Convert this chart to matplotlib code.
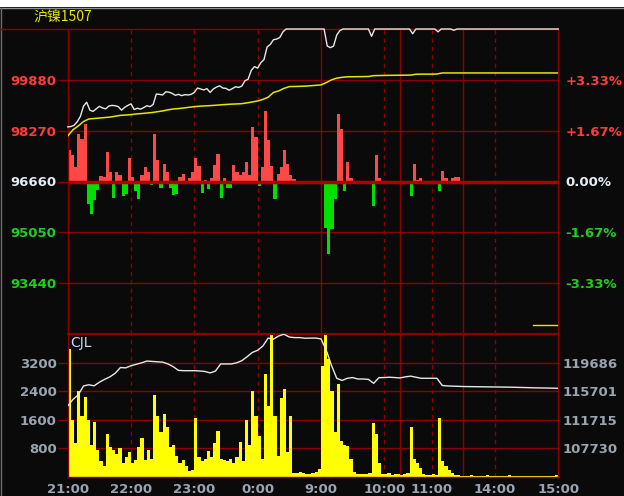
import matplotlib
matplotlib.use("Agg")
import matplotlib.pyplot as plt
import numpy as np
from matplotlib.lines import Line2D
from matplotlib.patches import Rectangle

plt.rcParams['font.family'] = ['DejaVu Sans']

# ---------------- data ----------------
title = "沪镍1507"
prev_settle = 96660
price_step = 1610
sessions = [("21:00", "01:00"), ("09:00", "10:15"), ("10:30", "11:30"), ("13:30", "15:00")]
time_labels = ["21:00", "22:00", "23:00", "0:00", "9:00", "10:00", "11:00", "14:00", "15:00"]
oi_tick_labels = [107730, 111715, 115701, 119686]
vol_ticks = [800, 1600, 2400, 3200]

# last price, one value every 3 trading minutes
price_3min = [
    98390, 98400, 98440, 98550, 98720, 99050, 99170, 98920, 98880, 98960,
    99040, 98990, 98960, 99050, 99070, 99060, 99030, 98920, 99010, 99070,
    99120, 98940, 98980, 98950, 99000, 99060, 99030, 99100, 99430, 99420,
    99400, 99500, 99490, 99450, 99390, 99420,
    99380, 99410, 99400, 99420, 99480, 99620, 99590, 99560, 99600, 99480,
    99590, 99650, 99690, 99620, 99610, 99550, 99600, 99660, 99640, 99680,
    99849, 99900, 100180, 100300, 100250, 100420, 100520, 100920, 101000, 101150,
    101170, 101220, 101400,
    101490, 101490, 101490, 101490, 101490, 101490, 101490, 101490, 101490, 101490,
    101490, 101490, 101490, 100950, 100900, 100950, 101300, 101440, 101490, 101490,
    101490, 101490, 101490, 101490, 101490, 101490, 101490, 101260, 101490, 101490,
    101490, 101490, 101490, 101490, 101490, 101490, 101490, 101490, 101490, 101490,
    101340, 101490, 101490, 101490, 101490, 101490, 101490, 101490, 101400, 101490,
    101490, 101490, 101490, 101450, 101490, 101490, 101490, 101490, 101490, 101490,
    101490, 101490, 101490, 101490, 101490, 101490, 101490, 101490, 101490, 101490,
    101490, 101490, 101490, 101490, 101490, 101490, 101490, 101490, 101490, 101490,
    101490, 101490, 101490, 101490, 101490, 101490, 101490,
]

# average price, one value every 5 trading minutes
avg_5min = [
    98100, 98300, 98420, 98560, 98640, 98655, 98670, 98685, 98700, 98728,
    98755, 98765, 98778, 98800, 98812, 98828, 98845, 98870, 98895, 98930,
    98955, 98970, 98990, 99010, 99030, 99045, 99055, 99063, 99075, 99088,
    99100, 99110, 99116, 99125, 99150, 99180, 99210, 99260, 99330, 99480,
    99530, 99610, 99665, 99670, 99675, 99680, 99692, 99705, 99720, 99790,
    99880, 99933, 99960, 99976, 99978, 99980, 99982, 99985, 100012, 100016,
    100020, 100022, 100024, 100026, 100028, 100030, 100057, 100060, 100060, 100060,
    100065, 100098, 100098, 100098, 100098, 100098, 100098, 100098, 100098, 100098,
    100098, 100098, 100098, 100098, 100098, 100098, 100098, 100098, 100098, 100098,
    100098, 100098, 100098, 100098,
]

# open interest, one value every 5 trading minutes
oi_5min = [
    113640, 114550, 115200, 116430, 116600, 116450, 116950, 117350, 117700, 118200,
    119000, 118950, 119250, 119450, 119650, 119900, 119850, 119800, 119750, 119500,
    119120, 118600, 118560, 118560, 118560, 118520, 118450, 118250, 118500, 119500,
    119500, 119500, 119650, 119950, 120500, 121100, 121400, 122000, 123100, 122950,
    123400, 123640, 123250, 123170, 123170, 123080, 123100, 123100, 123000, 121450,
    119300, 117500, 117200, 117500, 117600, 117400, 117400, 117350, 116800, 117590,
    117600, 117650, 117600, 117550, 117700, 117800, 117650, 117500, 117500, 117500,
    117500, 116500, 116430, 116400, 116380, 116350, 116340, 116330, 116320, 116310,
    116300, 116290, 116280, 116270, 116260, 116240, 116220, 116200, 116180, 116160,
    116150, 116140, 116120, 116110,
]

# volume (CJL), one bar per 3 trading minutes
volume_3min = [
    3590, 1600, 950, 2400, 1700, 2250, 1600, 900, 1550, 750,
    450, 320, 1200, 850, 750, 650, 800, 400, 550, 700,
    400, 480, 850, 1080, 480, 750, 500, 2300, 1700, 1250,
    1750, 1400, 850, 900, 580, 400, 480, 300, 180, 200,
    1650, 550, 450, 500, 720, 550, 950, 1280, 500, 480,
    450, 500, 400, 550, 970, 450, 1590, 900, 2400, 1700,
    1140, 500, 2890, 1980, 3985, 1700, 600, 2200, 2450, 700,
    1700, 110, 100, 130, 120, 90, 80, 100, 130, 220,
    3100, 3985, 3300, 2400, 1250, 2600, 1000, 900, 860, 500,
    150, 90, 80, 70, 90, 120, 1500, 1200, 400, 90,
    70, 100, 60, 80, 90,
    60, 80, 100, 1400, 500, 400, 250, 90, 60, 50,
    70, 60, 1650, 450, 300, 200, 120, 60, 50, 40,
    40, 30, 50, 40, 30, 40, 30, 50, 30, 40,
    30, 30, 40, 30, 50, 30, 40, 30, 30, 40,
    30, 30, 40, 30, 30, 40, 30, 30, 40, 50,
]

# red/green force bars around the settle line (price units), per 3 minutes
force_3min = [
    990, 830, 470, 1510, 1355, 1820, -700, -1040, -600, -260,
    170, 156, 940, 310, -520, 310, 200, -470, -400, 730,
    150, -300, -570, 200, 470, 310, -100, 1510, 680, -200,
    570, 310, -200, -420, -400, 150, 250, -50, 100, 310,
    730, 500, -365, 50, -250, 100, 520, 885, -520, 100,
    -200, -200, 520, 310, 200, 310, 625, 200, 1720, 1400,
    -156, 470, 2240, 1300, 500, -570, 250, 470, 990, 550,
    200, 70, 0, 0, 0, 0, 0, 0, 0, 0,
    0, -1460, -2290, -1500, -570, 2140, 1670, -310, 625, 100,
    0, 0, 0, 0, 0, 0, -780, 833, 100, 0,
    0, 0, 0, 0, 0,
    0, 0, 0, -470, 540, 50, 100, 0, 0, 0,
    0, 0, -310, 330, 100, -50, 120, 150, 150, 0,
    0, 0, 0, 0, 0, 0, 0, 0, 0, 0,
    0, 0, 0, 0, 0, 0, 0, 0, 0, 0,
    0, 0, 0, 0, 0, 0, 0, 0, 0, 0,
]

# ---------------- helpers ----------------
def to_min(s):
    h, m = map(int, s.split(":"))
    return h * 60 + m


def session_spans():
    spans = []
    for a, b in sessions:
        ta, tb = to_min(a), to_min(b)
        if tb < ta:
            tb += 1440
        spans.append((ta, tb))
    return spans


def trade_index(label):
    t = to_min(label)
    idx = 0
    for ta, tb in session_spans():
        tt = t
        if tt < ta and ta >= 18 * 60:
            tt += 1440
        if ta <= tt <= tb:
            return idx + tt - ta
        idx += tb - ta
    return idx


spans = session_spans()
total_minutes = sum(tb - ta for ta, tb in spans)
boundaries = list(np.cumsum([tb - ta for ta, tb in spans])[:-1])
tick_pos = [trade_index(l) for l in time_labels]

# ---------------- style ----------------
BG = "#0a0a0a"
GRID = "#8c0000"
ZERO = "#b00000"
RED_TXT = "#ff3c3c"
GREEN_TXT = "#22cc22"
WHITE_TXT = "#e4ecf4"
GRAY_TXT = "#9aa4b0"
BAR_RED = "#ff4848"
BAR_GREEN = "#00e000"
YELLOW = "#ffff00"
AVG_YELLOW = "#e6e600"
LINE_WHITE = "#e8e8e8"

W, H = 624, 496
fig = plt.figure(figsize=(W / 100, H / 100), dpi=100, facecolor=BG)


def fy(py):
    return 1 - py / H


L, R = 67.7 / W, 558.3 / W
axp = fig.add_axes([L, fy(334), R - L, fy(29) - fy(334)])
axv = fig.add_axes([L, fy(477), R - L, fy(334) - fy(477)])

for ax in (axp, axv):
    ax.set_facecolor(BG)
    ax.set_xlim(0, total_minutes)
    for sp in ax.spines.values():
        sp.set_color(GRID)
        sp.set_linewidth(1)
    for b in boundaries:
        ax.axvline(b, color=GRID, lw=1, zorder=1)
    for p in tick_pos[1:-1]:
        if p not in boundaries:
            ax.axvline(p, color=GRID, lw=1, ls=(0, (3, 3)), zorder=1)

axp.spines['bottom'].set_linewidth(1.5)
axv.spines['top'].set_linewidth(1.5)

# ---- price panel ----
lo, hi = prev_settle - 3 * price_step, prev_settle + 3 * price_step
axp.set_ylim(lo, hi)
price_levels = [prev_settle + k * price_step for k in (-2, -1, 0, 1, 2)]
for lvl in price_levels:
    if lvl == prev_settle:
        continue
    axp.axhline(lvl, color=GRID, lw=1, zorder=1)

fx = np.arange(len(force_3min)) * 3
fcol = [BAR_RED if v > 0 else BAR_GREEN for v in force_3min]
axp.bar(fx, force_3min, bottom=prev_settle, width=3, align='edge', color=fcol, lw=0, zorder=2)
axp.axhline(prev_settle, color=ZERO, lw=2.5, zorder=2.2)

axp.plot(np.arange(len(avg_5min)) * 5, avg_5min, color=AVG_YELLOW, lw=1.1, zorder=3)
axp.plot(np.arange(len(price_3min)) * 3, price_3min, color=LINE_WHITE, lw=1.0, zorder=4, clip_on=False)

axp.plot([0.948, 1.0], [0.0295, 0.0295], transform=axp.transAxes, color=AVG_YELLOW, lw=1, zorder=4)

axp.set_yticks(price_levels)
axp.set_yticklabels([str(v) for v in price_levels])
axp.tick_params(axis='y', which='both', length=7, width=1, color=GRID, pad=1, labelsize=9.5)
axp.tick_params(axis='x', length=0, labelbottom=False)


def level_color(v):
    if v > prev_settle:
        return RED_TXT
    if v < prev_settle:
        return GREEN_TXT
    return WHITE_TXT


for lab, v in zip(axp.get_yticklabels(), price_levels):
    lab.set_color(level_color(v))
    lab.set_fontweight('bold')

axp2 = axp.twinx()
axp2.set_ylim(lo, hi)
axp2.set_yticks(price_levels)
pct = []
for v in price_levels:
    p = (v / prev_settle - 1) * 100
    pct.append("0.00%" if abs(p) < 1e-9 else f"{p:+.2f}%")
axp2.set_yticklabels(pct)
axp2.tick_params(axis='y', length=0, pad=5, labelsize=9.5)
for lab, v in zip(axp2.get_yticklabels(), price_levels):
    lab.set_color(level_color(v))
    lab.set_fontweight('bold')
for sp in axp2.spines.values():
    sp.set_visible(False)

# ---- volume panel ----
axv.set_ylim(0, 4000)
for t in vol_ticks:
    axv.axhline(t, color=GRID, lw=1, zorder=1)
axv.bar(np.arange(len(volume_3min)) * 3, volume_3min, width=3, align='edge', color=YELLOW, lw=0, zorder=2)
axv.set_yticks(vol_ticks)
axv.set_yticklabels([str(v) for v in vol_ticks])
axv.tick_params(axis='y', length=7, width=1, color=GRID, pad=1, labelsize=9.5, labelcolor=GRAY_TXT)
for lab in axv.get_yticklabels():
    lab.set_fontweight('bold')
axv.set_xticks(tick_pos)
axv.set_xticklabels(time_labels)
axv.tick_params(axis='x', length=0, pad=4, labelsize=9.5, labelcolor=GRAY_TXT)
for lab in axv.get_xticklabels():
    lab.set_fontweight('bold')
axv.text(0.005, 0.935, "CJL", transform=axv.transAxes, color="#c8d8f0", fontsize=10,
         va='center', ha='left', zorder=5)

axv2 = axv.twinx()
oi_step = (oi_tick_labels[-1] - oi_tick_labels[0]) / (len(oi_tick_labels) - 1)
axv2.set_ylim(oi_tick_labels[0] - oi_step, oi_tick_labels[-1] + oi_step)
axv2.plot(np.arange(len(oi_5min)) * 5, oi_5min, color=LINE_WHITE, lw=1.0, zorder=4)
axv2.set_yticks(oi_tick_labels)
axv2.set_yticklabels([str(v) for v in oi_tick_labels])
axv2.tick_params(axis='y', length=0, pad=3, labelsize=9.5, labelcolor=GRAY_TXT)
for lab in axv2.get_yticklabels():
    lab.set_fontweight('bold')
for sp in axv2.spines.values():
    sp.set_visible(False)

# ---- frame decorations ----
fig.add_artist(Rectangle((0, fy(7)), 1, 1 - fy(7), transform=fig.transFigure,
                         facecolor='white', edgecolor='none'))
fig.add_artist(Line2D([0, 1], [fy(7.5), fy(7.5)], transform=fig.transFigure, color='#909090', lw=1))
fig.add_artist(Line2D([0.6 / W, 0.6 / W], [0, fy(7.5)], transform=fig.transFigure, color='#707070', lw=1))
fig.add_artist(Line2D([0, L], [fy(29), fy(29)], transform=fig.transFigure, color=GRID, lw=1))

fig.text(33 / W, fy(18), title, color='#e8e800', fontsize=10,
         family=['Noto Sans CJK SC', 'DejaVu Sans'], va='center', ha='left')

fig.savefig("out.png", dpi=100, facecolor=BG)
